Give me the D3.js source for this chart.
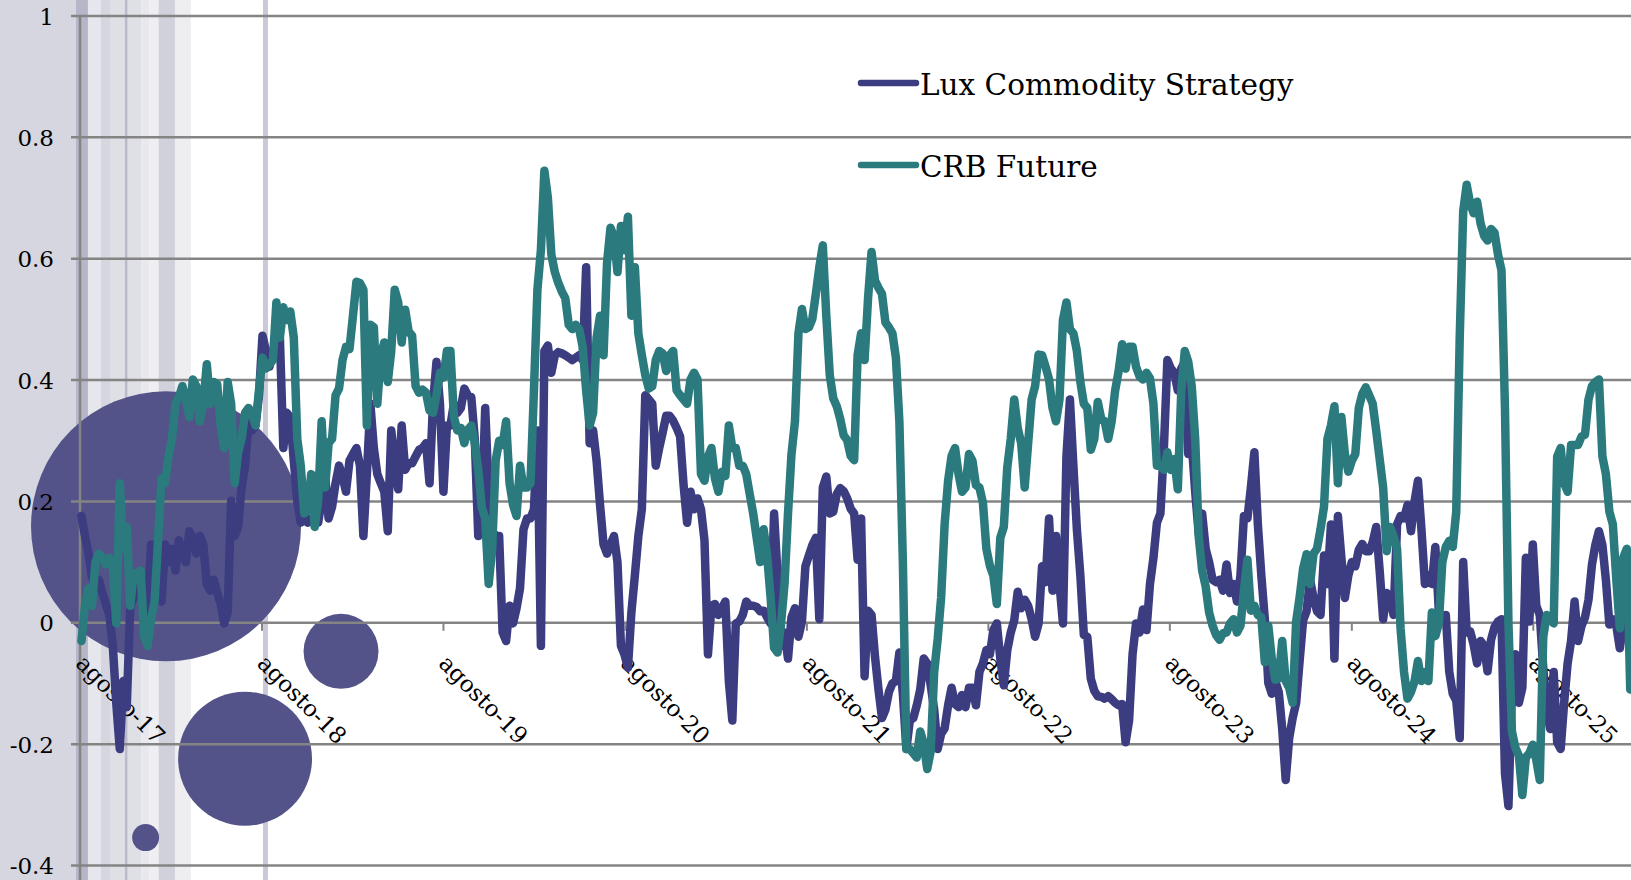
<!DOCTYPE html>
<html>
<head>
<meta charset="utf-8">
<script src="https://cdn.jsdelivr.net/npm/d3@7"></script>
<style>
  html, body { margin: 0; padding: 0; background: #ffffff; }
  svg { display: block; }
  text { font-family: "DejaVu Serif", serif; fill: #000; }
</style>
</head>
<body>
<div id="chart-area"></div>
<script>

// Data (weekly observations, first one on firstWeek)

var seriesNames = ["Lux Commodity Strategy", "CRB Future"];
var firstWeek = "2017-08-04";

var luxValues = [
  0.176, 0.143, 0.114, 0.075, 0.060, 0.071, 0.049, 0.031, 0.013, -0.038,
  -0.133, -0.208, -0.096, -0.139, 0.028, 0.042, 0.078, 0.078, 0.042, 0.017,
  0.129, 0.104, 0.042, 0.035, 0.129, 0.100, 0.122, 0.086, 0.136, 0.118,
  0.100, 0.151, 0.140, 0.114, 0.143, 0.129, 0.064, 0.053, 0.071, 0.049,
  0.031, -0.001, 0.017, 0.201, 0.143, 0.158, 0.223, 0.259, 0.332, 0.317,
  0.325, 0.375, 0.473, 0.448, 0.422, 0.448, 0.462, 0.470, 0.288, 0.346,
  0.339, 0.267, 0.201,
  0.165, 0.180, 0.165, 0.172, 0.169, 0.165, 0.201, 0.245, 0.172, 0.191,
  0.230, 0.259, 0.241, 0.216, 0.267, 0.278, 0.288, 0.259, 0.143, 0.245,
  0.361, 0.288, 0.245, 0.230, 0.216, 0.151, 0.317, 0.264, 0.220, 0.325,
  0.252, 0.263, 0.263, 0.274, 0.285, 0.288, 0.296, 0.230, 0.361, 0.430,
  0.361, 0.216, 0.325, 0.325, 0.361, 0.346, 0.354, 0.386, 0.375, 0.372,
  0.303, 0.143, 0.180, 0.354, 0.216, 0.151, 0.143, 0.143, -0.016, -0.030,
  0.028, -0.001, 0.024, 0.057,
  0.154, 0.172, 0.172, 0.187, 0.317, -0.038, 0.448, 0.457, 0.412, 0.441,
  0.446, 0.444, 0.441, 0.437, 0.433, 0.437, 0.441, 0.433, 0.586, 0.296,
  0.317, 0.267, 0.194, 0.129, 0.114, 0.129, 0.143, 0.100, -0.038, -0.052,
  -0.074, 0.017, 0.078, 0.143, 0.187, 0.375, 0.368, 0.361, 0.259, 0.288,
  0.314, 0.341, 0.341, 0.333, 0.321, 0.307, 0.227, 0.165, 0.216, 0.187,
  0.205, 0.187, 0.136, -0.052, 0.028, 0.031, 0.013, 0.024, 0.035, -0.096,
  -0.161, -0.001, 0.002,
  0.013, 0.035, 0.028, 0.028, 0.026, 0.019, 0.020, 0.009, -0.001, 0.180,
  0.078, -0.038, -0.016, -0.059, 0.009, 0.024, -0.023, 0.002, 0.093, 0.111,
  0.128, 0.140, 0.006, 0.223, 0.241, 0.180, 0.183, 0.212, 0.222, 0.217,
  0.205, 0.188, 0.180, 0.104, 0.172, -0.088, 0.020, 0.013, -0.056, -0.110,
  -0.157, -0.143, -0.114, -0.100, -0.096, -0.049, -0.117, -0.208, -0.161, -0.157,
  -0.136, -0.110, -0.059, -0.067, -0.103, -0.143, -0.208, -0.183, -0.174, -0.136,
  -0.107, -0.134, -0.139, -0.119,
  -0.139, -0.107, -0.107, -0.136, -0.081, -0.067,
  -0.045, -0.052, -0.012, -0.001, -0.059, -0.103, -0.045, -0.016, 0.004, 0.051,
  0.024, 0.038, 0.028, 0.006, -0.023, -0.001, 0.093, 0.067, 0.172, 0.053,
  0.143, 0.064, -0.001, 0.274, 0.368, 0.259, 0.154, 0.078, -0.020, -0.023,
  -0.092, -0.112, -0.121, -0.122, -0.125, -0.121, -0.126, -0.132, -0.136, -0.134,
  -0.197, -0.161, -0.052, -0.001, -0.016, 0.022, -0.012, 0.064, 0.107, 0.165,
  0.180, 0.288, 0.433, 0.419, 0.412, 0.383, 0.419, 0.430,
  0.278, 0.296,
  0.216, 0.147, 0.180, 0.122, 0.100, 0.071, 0.067, 0.071, 0.053, 0.096,
  0.049, 0.064, 0.035, 0.078, 0.176, 0.172, 0.223, 0.281, 0.162, 0.078,
  0.006, -0.099, -0.117, -0.096, -0.114, -0.175, -0.259, -0.190, -0.157, -0.132,
  -0.063, 0.004, 0.019, 0.071, 0.041, 0.019, 0.013, 0.111, 0.064, 0.162,
  -0.059, 0.176, 0.107, 0.041, 0.078, 0.100, 0.093, 0.120, 0.130, 0.118,
  0.118, 0.133, 0.158, 0.086, 0.006, 0.049, 0.042, 0.013, 0.162, 0.176,
  0.172, 0.194,
  0.151, 0.199, 0.234, 0.154, 0.064, 0.078, 0.064, 0.125,
  0.020, 0.006, 0.013, -0.081, -0.117, -0.128, -0.190, 0.100, -0.016, -0.014,
  -0.036, -0.067, -0.030, -0.038, -0.080, -0.028, -0.007, 0.002, 0.006, -0.248,
  -0.302, -0.110, -0.052, -0.132, -0.107, 0.107, 0.002, 0.129, 0.028, 0.013,
  -0.074, -0.146, -0.175, -0.081, -0.197, -0.208, -0.132, -0.067, -0.030, 0.035,
  -0.030, -0.005, 0.009, 0.038, 0.096, 0.129, 0.151, 0.128, 0.071, -0.003,
  0.006, -0.005, -0.042, -0.001, 0.024, 0.038
];

var crbValues = [
  -0.030, 0.028, 0.057, 0.028, 0.100, 0.114, 0.107, 0.096, 0.107, 0.093,
  -0.001, 0.230, 0.122, 0.158, 0.028, 0.082, 0.071, 0.086, -0.023, -0.038,
  0.006, 0.035, 0.136, 0.238, 0.230, 0.274, 0.303, 0.361, 0.372, 0.390,
  0.368, 0.339, 0.401, 0.390, 0.332, 0.361, 0.426, 0.361, 0.397, 0.393,
  0.325, 0.288, 0.397, 0.361, 0.230, 0.281, 0.303, 0.346, 0.354, 0.343,
  0.325, 0.383, 0.437, 0.419, 0.426, 0.433, 0.528, 0.470, 0.520, 0.499,
  0.513, 0.470, 0.303,
  0.259, 0.180, 0.187, 0.245, 0.158, 0.201, 0.332,
  0.223, 0.296, 0.303, 0.375, 0.386, 0.433, 0.455, 0.451, 0.506, 0.562,
  0.560, 0.549, 0.325, 0.491, 0.487, 0.361, 0.441, 0.462, 0.397, 0.448,
  0.549, 0.528, 0.462, 0.516, 0.480, 0.473, 0.390, 0.379, 0.384, 0.379,
  0.350, 0.346, 0.375, 0.412, 0.404, 0.448, 0.448, 0.339, 0.317, 0.321,
  0.296, 0.318, 0.325, 0.296, 0.252, 0.191, 0.172, 0.064, 0.122, 0.267,
  0.300, 0.293, 0.332, 0.230, 0.194, 0.176, 0.259,
  0.223, 0.223, 0.230,
  0.383, 0.549, 0.614, 0.745, 0.701, 0.607, 0.578, 0.560, 0.546, 0.535,
  0.491, 0.484, 0.491, 0.484, 0.455, 0.383, 0.325, 0.346, 0.470, 0.506,
  0.441, 0.593, 0.651, 0.636, 0.578, 0.654, 0.614, 0.669, 0.506, 0.586,
  0.477, 0.441, 0.408, 0.386, 0.390, 0.433, 0.448, 0.444, 0.415, 0.441,
  0.448, 0.383, 0.375, 0.368, 0.361, 0.401, 0.412, 0.401, 0.245, 0.234,
  0.274, 0.288, 0.238, 0.216, 0.249, 0.242, 0.325, 0.288, 0.288, 0.259,
  0.259, 0.245, 0.212, 0.180, 0.140, 0.100, 0.154, 0.111, 0.042, -0.041,
  -0.049, -0.001, 0.064, 0.180, 0.278, 0.332, 0.477, 0.517, 0.484, 0.487,
  0.501, 0.542, 0.586, 0.622, 0.506, 0.408, 0.370, 0.357, 0.336, 0.309,
  0.301, 0.275, 0.268, 0.441, 0.477, 0.433, 0.535, 0.611, 0.564, 0.552,
  0.542, 0.495, 0.487, 0.477, 0.437, 0.332, 0.100, -0.208, -0.208, -0.215,
  -0.222, -0.179, -0.199, -0.241, -0.212, -0.081, -0.027, 0.042, 0.162, 0.234,
  0.275, 0.288, 0.245, 0.216,
  0.223, 0.278, 0.267, 0.227, 0.223, 0.198,
  0.122, 0.094, 0.078, 0.031, 0.140, 0.158, 0.256, 0.303, 0.368, 0.321,
  0.296, 0.223, 0.296, 0.368, 0.390, 0.442, 0.441, 0.422, 0.401, 0.354,
  0.332, 0.368, 0.499, 0.528, 0.484, 0.477, 0.448, 0.397, 0.361, 0.354,
  0.285, 0.303, 0.364, 0.336, 0.332, 0.303, 0.332, 0.383, 0.415, 0.459,
  0.419, 0.455, 0.455, 0.422, 0.406, 0.401, 0.412, 0.403, 0.361, 0.259,
  0.259, 0.252, 0.281, 0.252, 0.270, 0.220, 0.383, 0.448,
  0.430, 0.390,
  0.303, 0.143, 0.086, 0.060, 0.017, -0.005, -0.020, -0.028, -0.017, -0.016,
  -0.001, 0.006, -0.016, -0.005, 0.053, 0.104, 0.020, 0.028, 0.013, 0.009,
  -0.065, -0.005, -0.059, -0.094, -0.092, -0.030, -0.096, -0.107, -0.132, 0.002,
  0.042, 0.089, 0.113, 0.064, 0.114, 0.122, 0.154, 0.191, 0.303, 0.325,
  0.357, 0.230, 0.339, 0.278, 0.249, 0.267, 0.278, 0.354, 0.377, 0.388,
  0.375, 0.361, 0.317, 0.270, 0.223, 0.118, 0.158, 0.143, 0.122, -0.009,
  -0.081, -0.125,
  -0.114, -0.097, -0.063, -0.096, -0.081, -0.096, 0.017, -0.022,
  -0.001, 0.100, 0.125, 0.135, 0.125, 0.183, 0.470, 0.678, 0.722, 0.691,
  0.675, 0.694, 0.658, 0.638, 0.630, 0.649, 0.643, 0.607, 0.581, 0.354,
  -0.001, -0.179, -0.206, -0.219, -0.284, -0.222, -0.215, -0.201, -0.226, -0.259,
  -0.023, 0.013, 0.006, -0.001, 0.274, 0.288, 0.230, 0.216, 0.293, 0.293,
  0.293, 0.307, 0.310, 0.368, 0.390, 0.397, 0.401, 0.274, 0.245, 0.183,
  0.162, 0.071, -0.009, 0.107, 0.122, -0.110
];

var yTicks = [-0.4, -0.2, 0, 0.2, 0.4, 0.6, 0.8, 1];
var xTickDates = ["2017-08-01", "2018-08-01", "2019-08-01", "2020-08-01", "2021-08-01",
                  "2022-08-01", "2023-08-01", "2024-08-01", "2025-08-01"];
var xTickLabels = ["agosto-17", "agosto-18", "agosto-19", "agosto-20", "agosto-21",
                   "agosto-22", "agosto-23", "agosto-24", "agosto-25"];

// bubbles
var bubbleDates = ["2018-01-21", "2018-06-29", "2019-01-08", "2017-12-11"];
var bubbleValues = [0.159, -0.224, -0.047, -0.354];
var bubbleWeights = [100, 24.6, 7.7, 1];

// shaded background bands
var bandStarts = ["2016-01-01", "2017-07-24", "2017-08-17", "2017-09-12", "2017-10-02", "2017-10-30",
                  "2017-11-05", "2017-12-03", "2017-12-19", "2018-01-06", "2018-02-08", "2018-08-04"];
var bandEnds   = ["2017-07-24", "2017-08-17", "2017-09-12", "2017-10-02", "2017-10-30", "2017-11-05",
                  "2017-12-03", "2017-12-19", "2018-01-06", "2018-02-08", "2018-03-12", "2018-08-14"];
var bandShades = ["#d6d6e0", "#b6b6c8", "#e6e6ed", "#d6d6e0", "#dfdfe6", "#babacb",
                  "#dfdfe6", "#e8e8ee", "#efeff3", "#d1d1dc", "#eeeef1", "#c9c9d7"];

var lineColors = ["#3c3c80", "#2a7a7e"];


// SVG drawing area

var width = 1631, height = 880;
var parse = d3.timeParse("%Y-%m-%d");

var svg = d3.select("#chart-area").append("svg")
    .attr("width", width)
    .attr("height", height);

svg.append("rect")
    .attr("width", width)
    .attr("height", height)
    .attr("fill", "#ffffff");

// Scales
var x = d3.scaleTime()
    .domain([parse("2017-08-01"), new Date(2026, 1, 14, 12)])
    .range([80, width]);

var y = d3.scaleLinear()
    .domain([-0.4, 1])
    .range([865.5, 16]);

var r = d3.scaleSqrt()
    .domain([0, 100])
    .range([0, 135]);

// weekly dates
var start = parse(firstWeek);
var weeks = luxValues.map(function(d, i) { return d3.timeDay.offset(start, 7 * i); });

var series = [luxValues, crbValues].map(function(vals, k) {
  return {
    name: seriesNames[k],
    color: lineColors[k],
    values: vals.map(function(v, i) { return {date: weeks[i], value: v}; })
  };
});

// background bands
svg.append("g").selectAll("rect")
    .data(bandStarts.map(function(s, i) { return {start: parse(s), end: parse(bandEnds[i]), shade: bandShades[i]}; }))
  .enter().append("rect")
    .attr("x", function(d) { return x(d.start); })
    .attr("y", 0)
    .attr("width", function(d) { return x(d.end) - x(d.start); })
    .attr("height", height)
    .attr("fill", function(d) { return d.shade; });

// bubbles
svg.append("g").selectAll("circle")
    .data(bubbleDates.map(function(s, i) { return {date: parse(s), value: bubbleValues[i], w: bubbleWeights[i]}; }))
  .enter().append("circle")
    .attr("cx", function(d) { return x(d.date); })
    .attr("cy", function(d) { return y(d.value); })
    .attr("r", function(d) { return r(d.w); })
    .attr("fill", "#535389");

// gridlines
svg.append("g").selectAll("line")
    .data(yTicks)
  .enter().append("line")
    .attr("x1", 71)
    .attr("x2", width)
    .attr("y1", function(d) { return y(d); })
    .attr("y2", function(d) { return y(d); })
    .attr("stroke", "#848484")
    .attr("stroke-width", 2.5);

// y axis
var yAxis = d3.axisLeft(y)
    .tickValues(yTicks)
    .tickSize(0)
    .tickPadding(0)
    .tickFormat(function(d) { return String(d); });

var yg = svg.append("g")
    .attr("class", "axis y-axis")
    .attr("transform", "translate(54,0)")
    .call(yAxis);
yg.select(".domain").remove();
yg.selectAll("text")
    .attr("font-family", "DejaVu Serif")
    .attr("font-size", 23)
    .attr("dy", "0.35em");

svg.append("line")
    .attr("x1", 80).attr("x2", 80)
    .attr("y1", y(1)).attr("y2", height)
    .attr("stroke", "#848484")
    .attr("stroke-width", 2.5);

// x axis on the zero line
var xAxis = d3.axisBottom(x)
    .tickValues(xTickDates.map(parse))
    .tickSize(8)
    .tickFormat(function(d, i) { return xTickLabels[i]; });

var xg = svg.append("g")
    .attr("class", "axis x-axis")
    .attr("transform", "translate(0," + y(0) + ")")
    .call(xAxis);
xg.select(".domain").remove();
xg.selectAll("line")
    .attr("stroke", "#848484")
    .attr("stroke-width", 2);
xg.selectAll("text")
    .attr("font-family", "DejaVu Serif")
    .attr("font-size", 23)
    .attr("y", 0)
    .attr("dy", 0)
    .attr("text-anchor", "start")
    .attr("transform", "translate(-6,42) rotate(45)");

// lines
var line = d3.line()
    .x(function(d) { return x(d.date); })
    .y(function(d) { return y(d.value); });

svg.append("g").selectAll("path")
    .data(series)
  .enter().append("path")
    .attr("d", function(d) { return line(d.values); })
    .attr("fill", "none")
    .attr("stroke", function(d) { return d.color; })
    .attr("stroke-width", 8.5)
    .attr("stroke-linejoin", "round")
    .attr("stroke-linecap", "round");

// legend
var legend = svg.append("g").selectAll("g")
    .data(series)
  .enter().append("g")
    .attr("transform", function(d, i) { return "translate(0," + (i * 82) + ")"; });

legend.append("line")
    .attr("x1", 861).attr("x2", 916)
    .attr("y1", 83).attr("y2", 83)
    .attr("stroke", function(d) { return d.color; })
    .attr("stroke-width", 6.5)
    .attr("stroke-linecap", "round");

legend.append("text")
    .attr("x", 920)
    .attr("y", 95)
    .attr("font-size", 29.5)
    .text(function(d) { return d.name; });

</script>
</body>
</html>
